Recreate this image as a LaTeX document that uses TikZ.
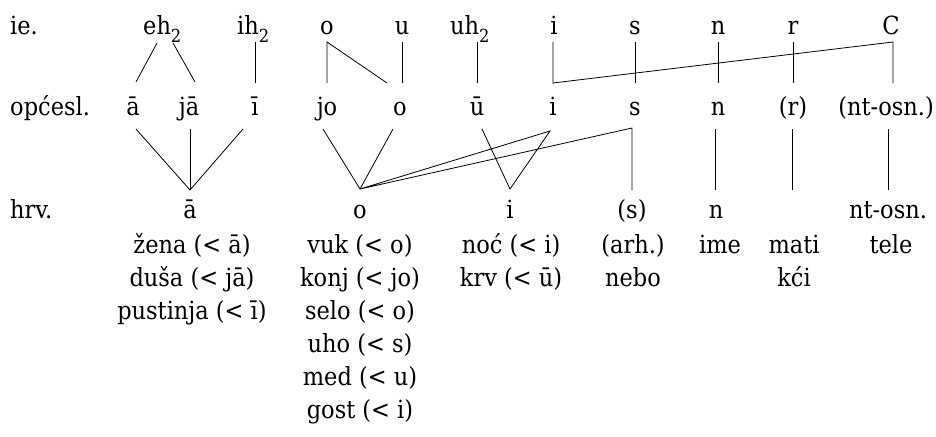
\documentclass[tikz,border=0pt]{standalone}
\usepackage{fontspec}
\setmainfont{DejaVu Serif Condensed}
\newcommand\subtwo{\raisebox{-7pt}{\fontsize{18}{18}\selectfont 2}}
\begin{document}
\begin{tikzpicture}[x=1pt,y=-1pt,
  t/.style={inner sep=0pt, anchor=base, font=\fontsize{25}{33}\selectfont},
  tl/.style={t, anchor=base west},
  ln/.style={line width=0.8pt, line join=miter}]
\useasboundingbox (0,0) rectangle (936,436);
% row labels
\node[tl] (lie) at (10,35) {ie.};
\node[tl] (lops) at (10,115) {općesl.};
\node[tl] (lhrv) at (10,218) {hrv.};
% row 1 (ie.)
\node[tl] (Aeh) at (143,35) {eh\subtwo};
\node[tl] (Aih) at (237,35) {ih\subtwo};
\node[t] (Ao) at (327,35) {o};
\node[t] (Au) at (402,35) {u};
\node[tl] (Auh) at (450,35) {uh\subtwo};
\node[t] (Ai) at (554,35) {i};
\node[t] (As) at (635,35) {s};
\node[t] (An) at (718,35) {n};
\node[t] (Ar) at (793,35) {r};
\node[t] (AC) at (891,35) {C};
% row 2 (općesl.)
\node[t] (Ba) at (133,115) {ā};
\node[t] (Bja) at (189,115) {jā};
\node[t] (Bi2) at (255,115) {ī};
\node[t] (Bjo) at (327,115) {jo};
\node[t] (Bo) at (400,115) {o};
\node[t] (Bu) at (477,115) {ū};
\node[t] (Bi) at (553,115) {i};
\node[t] (Bs) at (635,115) {s};
\node[t] (Bn) at (718,115) {n};
\node[t] (Br) at (793,115) {(r)};
\node[t,anchor=base east] (Bnt) at (934,115) {(nt-osn.)};
% row 3 (hrv.)
\node[t] (Ca) at (190,218) {ā};
\node[t] (Co) at (360,218) {o};
\node[t] (Ci) at (510,218) {i};
\node[t] (Cs) at (632,218) {(s)};
\node[t] (Cn) at (716,218) {n};
\node[t] (Cnt) at (888,218) {nt-osn.};
% examples
\node[t] (Da1) at (192,253) {žena (< ā)};
\node[t] (Da2) at (192,286) {duša (< jā)};
\node[t] (Da3) at (192,319) {pustinja (< ī)};
\node[t] (Do1) at (360,253) {vuk (< o)};
\node[t] (Do2) at (360,286) {konj (< jo)};
\node[t] (Do3) at (360,319) {selo (< o)};
\node[t] (Do4) at (360,352) {uho (< s)};
\node[t] (Do5) at (360,385) {med (< u)};
\node[t] (Do6) at (360,418) {gost (< i)};
\node[t] (Di1) at (511,253) {noć (< i)};
\node[t] (Di2) at (511,286) {krv (< ū)};
\node[t] (Ds1) at (633,253) {(arh.)};
\node[t] (Ds2) at (633,286) {nebo};
\node[t] (Dn1) at (720,253) {ime};
\node[t] (Dr1) at (794,253) {mati};
\node[t] (Dr2) at (794,286) {kći};
\node[t] (Dnt1) at (891,253) {tele};
% connector end points, row 1 -> row 2
\coordinate (eh1) at (157,43); \coordinate (eh2) at (173,43);
\coordinate (ba) at (136,82); \coordinate (bja) at (195,82);
\coordinate (aih) at (255,42); \coordinate (bi2) at (255,83);
\coordinate (ao) at (327,42); \coordinate (bjo) at (327,83); \coordinate (bo) at (387,83);
\coordinate (au) at (402,42); \coordinate (bo2) at (402,83);
\coordinate (auh) at (477,42); \coordinate (bu) at (477,83);
\coordinate (ai) at (553,42); \coordinate (bi) at (553,83);
\coordinate (as) at (635,42); \coordinate (bs) at (635,83);
\coordinate (an) at (718,42); \coordinate (bn) at (718,83);
\coordinate (ar) at (793,42); \coordinate (br) at (793,83);
\coordinate (aC) at (893,42); \coordinate (bnt) at (893,83);
% row 2 -> row 3
\coordinate (ba2) at (136,129); \coordinate (bja2) at (190,129); \coordinate (bii2) at (243,129);
\coordinate (ca) at (190,190);
\coordinate (bjo2) at (323,129); \coordinate (bo3) at (393,129);
\coordinate (co) at (360,189);
\coordinate (bu2) at (482,129); \coordinate (bi3) at (550,131);
\coordinate (ci) at (510,189);
\coordinate (bs2) at (632,128); \coordinate (cs) at (632,190);
\coordinate (bn2) at (715,129); \coordinate (cn) at (715,190);
\coordinate (br2) at (792,129); \coordinate (cr) at (792,190);
\coordinate (bnt2) at (888,129); \coordinate (cnt) at (888,190);
% connectors row 1 -> row 2
\draw[ln] (eh1) -- (ba);
\draw[ln] (eh2) -- (bja);
\draw[ln] (aih) -- (bi2);
\draw[ln] (bjo) -- (ao) -- (bo);
\draw[ln] (au) -- (bo2);
\draw[ln] (auh) -- (bu);
\draw[ln] (ai) -- (bi) -- (aC) -- (bnt);
\draw[ln] (as) -- (bs);
\draw[ln] (an) -- (bn);
\draw[ln] (ar) -- (br);
% connectors row 2 -> row 3
\draw[ln] (ba2) -- (ca) -- (bii2);
\draw[ln] (bja2) -- (ca);
\draw[ln] (bjo2) -- (co) -- (bo3);
\draw[ln] (bu2) -- (ci) -- (bi3) -- (co) -- (bs2) -- (cs);
\draw[ln] (bn2) -- (cn);
\draw[ln] (br2) -- (cr);
\draw[ln] (bnt2) -- (cnt);
\end{tikzpicture}
\end{document}
